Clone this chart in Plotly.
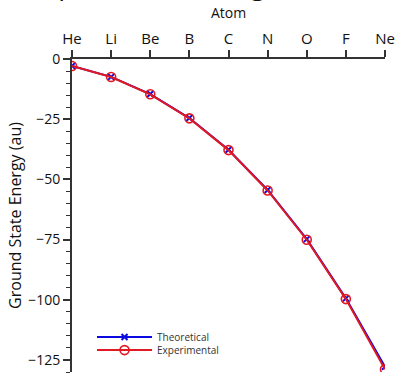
import plotly.graph_objects as go

atoms = ["He", "Li", "Be", "B", "C", "N", "O", "F", "Ne"]
theoretical = [-2.86, -7.43, -14.57, -24.53, -37.69, -54.40, -74.81, -99.41, -127.8]
experimental = [-2.90, -7.48, -14.67, -24.65, -37.84, -54.59, -75.07, -99.73, -128.9]
y_ticks = [0, -25, -50, -75, -100, -125]

FONT = "Open Sans"
AX = "#333333"
BLUE = "rgb(10,10,225)"
RED = "rgb(225,25,35)"

fig = go.Figure()
fig.add_trace(go.Scatter(
    x=atoms, y=theoretical, name="Theoretical", mode="lines+markers",
    line=dict(color=BLUE, width=2),
    marker=dict(symbol="x-thin", size=6, line=dict(color=BLUE, width=2)),
    legend="legend",
))
fig.add_trace(go.Scatter(
    x=atoms, y=experimental, name="Experimental", mode="lines+markers",
    line=dict(color=RED, width=2),
    marker=dict(symbol="circle-open", size=9, color=RED, line=dict(width=1.6)),
    legend="legend2",
))

fig.add_annotation(
    text="Comparison of Energies", xref="paper", yref="paper",
    x=-0.236, y=1.175, xanchor="left", yanchor="bottom", showarrow=False,
    font=dict(family=FONT, size=27, color="#111"),
)

leg = dict(xanchor="left", yanchor="middle", bgcolor="rgba(0,0,0,0)",
           font=dict(size=10, color="#333"), itemwidth=55)
fig.update_layout(
    width=396, height=373,
    margin=dict(l=72, r=11, t=59, b=1, autoexpand=False),
    paper_bgcolor="white", plot_bgcolor="white",
    font=dict(family=FONT, size=13, color="#111"),
    showlegend=True,
    legend=dict(x=0.064, y=0.112, **leg),
    legend2=dict(x=0.064, y=0.070, **leg),
)
fig.update_xaxes(
    side="top", type="category", range=[0, 8], automargin=False,
    title=dict(text="Atom", font=dict(size=14), standoff=6),
    showline=True, linecolor=AX, linewidth=2, mirror=False,
    ticks="outside", ticklen=7, tickwidth=1.5, tickcolor=AX,
    tickfont=dict(size=15), showgrid=False, zeroline=False,
)
fig.update_yaxes(
    range=[-130, 0], tickvals=y_ticks, automargin=False,
    title=dict(text="Ground State Energy (au)", font=dict(size=16), standoff=3),
    showline=True, linecolor=AX, linewidth=2,
    ticks="outside", ticklen=7, tickwidth=1.5, tickcolor=AX,
    minor=dict(dtick=5, ticks="outside", ticklen=4, tickcolor=AX, tickwidth=1.2),
    tickfont=dict(size=14), showgrid=False, zeroline=False,
)
fig.write_html(
    "out.html",
    config={"displayModeBar": False},
    post_script="document.body.style.margin='0';document.body.style.overflow='hidden';",
)
